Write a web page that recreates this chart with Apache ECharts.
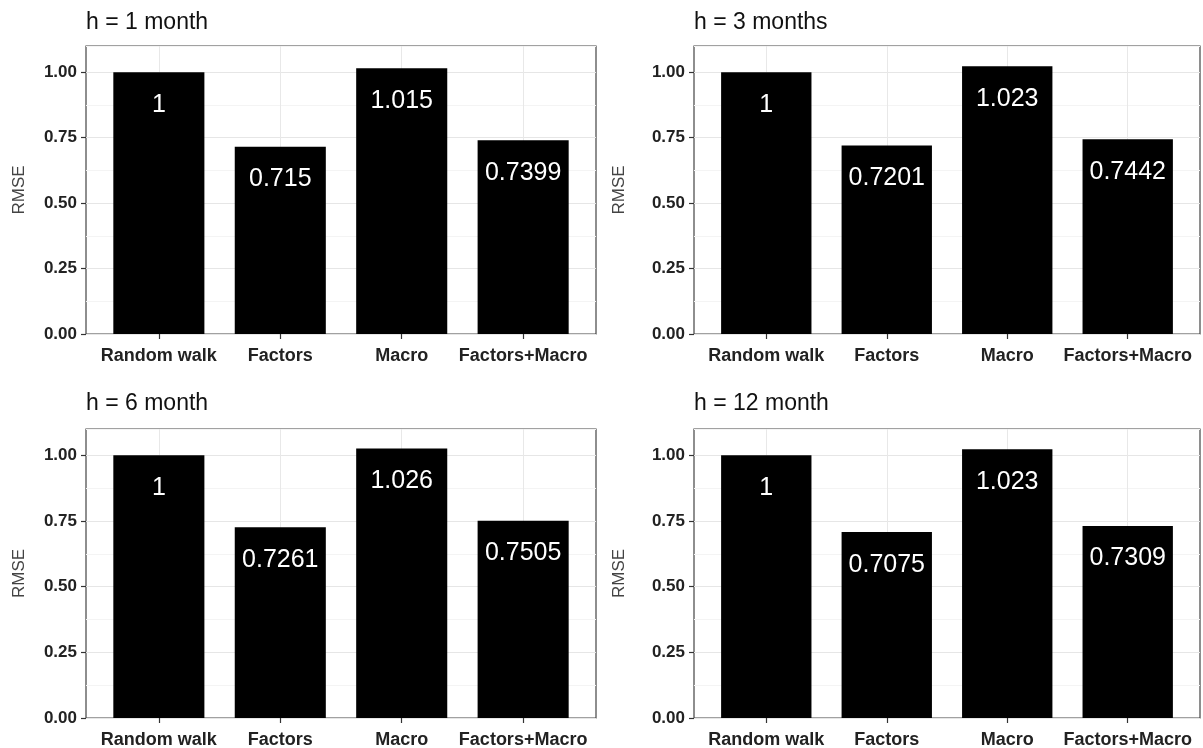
<!DOCTYPE html>
<html>
<head>
<meta charset="utf-8">
<script src="https://cdn.jsdelivr.net/npm/echarts@6/dist/echarts.min.js"></script>
<style>
html,body{margin:0;padding:0;background:#fff;}
#chart{width:1203px;height:748px;}
</style>
</head>
<body>
<div id="chart"></div>
<script>
// ---- data ----
const categories = ['Random walk', 'Factors', 'Macro', 'Factors+Macro'];
const panelTitles = ['h = 1 month', 'h = 3 months', 'h = 6 month', 'h = 12 month'];
const rmseH1 = [1, 0.715, 1.015, 0.7399];
const rmseH3 = [1, 0.7201, 1.023, 0.7442];
const rmseH6 = [1, 0.7261, 1.026, 0.7505];
const rmseH12 = [1, 0.7075, 1.023, 0.7309];
const yAxisTitle = 'RMSE';
const yMin = 0, yMax = 1.1, yMajor = 0.25, yMinor = 0.125;

const panelValues = [rmseH1, rmseH3, rmseH6, rmseH12];

// ---- layout ----
const frames = [
  {l: 86, r: 596, t: 46, b: 334, titleTop: 11, nameGap: 58},
  {l: 694, r: 1200, t: 46, b: 334, titleTop: 11, nameGap: 66},
  {l: 86, r: 596, t: 429, b: 718, titleTop: 392, nameGap: 58},
  {l: 694, r: 1200, t: 429, b: 718, titleTop: 392, nameGap: 66}
];

const mainFont = '"Liberation Sans", Arial, sans-serif';

const option = {
  animation: false,
  backgroundColor: '#ffffff',
  title: [], grid: [], xAxis: [], yAxis: [], series: []
};

frames.forEach((f, i) => {
  const inset = (f.r - f.l) / 42; // 0.1 of a category unit (ggplot 0.6 expansion)
  const frameGrid = 2 * i, dataGrid = 2 * i + 1;
  option.title.push({
    text: panelTitles[i], left: f.l, top: f.titleTop, padding: 0,
    textStyle: {fontFamily: mainFont, fontSize: 23, fontWeight: 'normal', color: '#111'}
  });
  option.grid.push({
    left: f.l, width: f.r - f.l, top: f.t, height: f.b - f.t,
    show: true, borderColor: '#444', borderWidth: 1.2, backgroundColor: 'transparent',
    containLabel: false, outerBoundsMode: 'none'
  });
  option.grid.push({
    left: f.l + inset, width: f.r - f.l - 2 * inset, top: f.t, height: f.b - f.t,
    show: false, containLabel: false, outerBoundsMode: 'none'
  });
  // frame grid x (hidden)
  option.xAxis.push({type: 'value', gridIndex: frameGrid, min: 0, max: 1, show: false});
  // data grid x (categories)
  option.xAxis.push({
    type: 'category', gridIndex: dataGrid, data: categories,
    axisLine: {show: false},
    axisTick: {show: true, alignWithLabel: true, length: 5, lineStyle: {color: '#333', width: 1.2}},
    axisLabel: {interval: 0, margin: 13, fontFamily: mainFont, fontSize: 18, fontWeight: 'bold', color: '#222'},
    splitLine: {show: true, alignWithLabel: true, lineStyle: {color: '#e8e8e8', width: 1}}
  });
  // frame grid y: gridlines (major/minor alternating)
  option.yAxis.push({
    type: 'value', gridIndex: frameGrid, min: yMin, max: yMax, interval: yMinor, position: 'left',
    axisLine: {show: false}, axisTick: {show: false}, axisLabel: {show: false},
    splitLine: {show: true, lineStyle: {color: ['#e6e6e6', '#f4f4f4'], width: 1}}
  });
  // frame grid y: labels & ticks
  option.yAxis.push({
    type: 'value', gridIndex: frameGrid, min: yMin, max: yMax, interval: yMajor, position: 'left',
    name: yAxisTitle, nameLocation: 'middle', nameGap: f.nameGap,
    nameTextStyle: {fontFamily: mainFont, fontSize: 17, color: '#444'},
    axisLine: {show: false},
    axisTick: {show: true, length: 5, lineStyle: {color: '#333', width: 1.2}},
    axisLabel: {
      margin: 9, fontFamily: mainFont, fontSize: 17, fontWeight: 'bold', color: '#222',
      showMaxLabel: false,
      formatter: v => (Math.abs(v / yMajor - Math.round(v / yMajor)) < 1e-9 ? v.toFixed(2) : '')
    },
    splitLine: {show: false}
  });
  // data grid y (hidden)
  option.yAxis.push({type: 'value', gridIndex: dataGrid, min: yMin, max: yMax, show: false});
  option.series.push({
    type: 'bar', xAxisIndex: 2 * i + 1, yAxisIndex: 3 * i + 2,
    data: panelValues[i], barWidth: '75%',
    itemStyle: {color: '#000'},
    label: {
      show: true, position: 'insideTop', distance: 20,
      fontFamily: mainFont, fontSize: 25, color: '#fff',
      formatter: p => String(p.value)
    }
  });
});

const chart = echarts.init(document.getElementById('chart'), null, {renderer: 'canvas'});
chart.setOption(option);
</script>
</body>
</html>
